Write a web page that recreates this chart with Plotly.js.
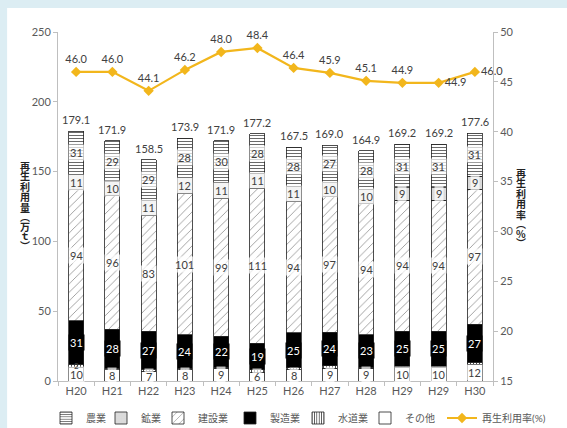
<!DOCTYPE html>
<html><head><meta charset="utf-8">
<script src="https://cdn.plot.ly/plotly-3.0.1.min.js"></script>
<style>html,body{margin:0;padding:0;background:#dcedf3;}#c{width:567px;height:428px;}</style>
</head><body><div id="c"></div>
<script>
const years = ['H20','H21','H22','H23','H24','H25','H26','H27','H28','H29','H29','H30'];
const totals = [179.1,171.9,158.5,173.9,171.9,177.2,167.5,169.0,164.9,169.2,169.2,177.6];
const other = [10,8,7,8,9,6,8,9,9,10,10,12];
const water = [2,1,1.5,1,1,2,1.5,2,1,0.5,0.5,1.5];
const waterLabels = ['2','','','','','','','','','','',''];
const manuf = [31,28,27,24,22,19,25,24,23,25,25,27];
const constr = [94,96,83,101,99,111,94,97,94,94,94,97];
const mining = [11,10,11,12,11,11,11,10,10,9,9,9];
const agri = [31,29,29,28,30,28,28,27,28,31,31,31];
const rate = [46.0,46.0,44.1,46.2,48.0,48.4,46.4,45.9,45.1,44.9,44.9,46.0];
const ratePos = ['top center','top center','top center','top center','top center','top center','top center','top center','top center','top center','middle right','middle right'];
const leftTitle = ['再','生','利','用','量','︵','万','ｔ','︶'];
const rightTitle = ['再','生','利','用','率','︵','%','︶'];

const xs = years.map((_, i) => i);
const FONT = "Lato, 'Noto Sans CJK JP', sans-serif";
const JP = "'Noto Sans CJK JP', sans-serif";
const outline = {color:'#222', width:0.8};
const pxY = p => (381 - p) / 349;
const pxX = p => (p - 58) / 435;

const series = [
  {name:'その他', y:other, pattern:{shape:''}, color:'#fff', lg:'legend6', lx:365},
  {name:'水道業', y:water, pattern:{shape:'|', fgcolor:'#333', bgcolor:'#fff', size:3, solidity:0.3}, color:'#fff', lg:'legend5', lx:298},
  {name:'製造業', y:manuf, pattern:{shape:''}, color:'#000', lg:'legend4', lx:230},
  {name:'建設業', y:constr, pattern:{shape:'/', fgcolor:'#9a9a9a', bgcolor:'#fff', size:6, solidity:0.15}, color:'#fff', lg:'legend3', lx:158},
  {name:'鉱業', y:mining, pattern:{shape:'.', fgcolor:'#a0a0a0', bgcolor:'#fff', size:2, solidity:0.4}, color:'#fff', lg:'legend2', lx:101},
  {name:'農業', y:agri, pattern:{shape:'-', fgcolor:'#6a6a6a', bgcolor:'#fff', size:3, solidity:0.35}, color:'#fff', lg:'legend', lx:46}
];

const traces = series.map(s => ({
  type:'bar', x:xs, y:s.y, name:s.name, legend:s.lg, width:0.42,
  marker:{color:s.color, pattern:s.pattern, line:outline},
  hoverinfo:'y'
}));

traces.push({
  type:'scatter', mode:'lines+markers+text', x:xs, y:rate, yaxis:'y2', name:'再生利用率(%)', legend:'legend7',
  line:{color:'#F2B61C', width:2.2}, marker:{symbol:'diamond', size:8, color:'#F2B61C'},
  text:rate.map(v=>v.toFixed(1)), textposition:ratePos,
  textfont:{family:FONT, size:11, color:'#404040'}, cliponaxis:false
});

const annotations = [];
const base = xs.map(()=>0);
series.forEach((s) => {
  s.y.forEach((v, i) => {
    let label = String(v);
    const isWater = s.name === '水道業';
    if (isWater) label = waterLabels[i];
    if (label) {
      const isBlack = s.name === '製造業';
      annotations.push({x:i, y:base[i] + v/2, xref:'x', yref:'y', text:label, showarrow:false,
        font:{family:FONT, size:isWater ? 8 : 11, color:isBlack ? '#fff' : '#404040'},
        bgcolor:isBlack ? '#000' : (isWater ? 'rgba(0,0,0,0)' : 'rgba(255,255,255,0.7)'), borderpad:isWater ? 0 : 1});
    }
    base[i] += v;
  });
});
totals.forEach((t, i) => {
  annotations.push({x:i, y:base[i], xref:'x', yref:'y', text:t.toFixed(1), showarrow:false, yanchor:'bottom', yshift:3,
    font:{family:FONT, size:11, color:'#404040'}});
});
// vertical axis titles, one character per annotation (pixel rows of the character centres)
const leftRows = [165, 175.5, 186, 196.5, 207, 216.5, 226, 235.5, 245];
const rightRows = [172, 182.5, 193, 203.5, 214, 223.5, 233, 242.5];
leftTitle.forEach((ch, k) => {
  annotations.push({xref:'paper', yref:'paper', x:pxX(18), y:pxY(leftRows[k]), yanchor:'middle', text:ch, showarrow:false,
    font:{family:JP, size:10, color:'#222', weight:700}});
});
rightTitle.forEach((ch, k) => {
  annotations.push({xref:'paper', yref:'paper', x:pxX(528), y:pxY(rightRows[k]), yanchor:'middle', text:ch, showarrow:false,
    font:{family:JP, size:10, color:'#222', weight:700}});
});

const legendBase = {orientation:'h', xanchor:'left', y:pxY(418), yanchor:'middle',
  font:{family:FONT, size:10, color:'#595959'}, bgcolor:'rgba(0,0,0,0)', itemwidth:30};

const layout = {
  width:567, height:428,
  margin:{l:58, r:74, t:32, b:47, autoexpand:false},
  paper_bgcolor:'#dcedf3', plot_bgcolor:'#fff',
  barmode:'stack', showlegend:true,
  font:{family:FONT, size:11, color:'#595959'},
  xaxis:{range:[-0.5, 11.5], tickmode:'array', tickvals:xs, ticktext:years, ticks:'', showgrid:false, zeroline:false,
    showline:true, linecolor:'#bfbfbf', tickfont:{size:11, color:'#595959'},
    minor:{tickmode:'array', tickvals:xs.map(i=>i-0.5).concat([11.5]), ticks:'outside', ticklen:4, tickcolor:'#bfbfbf', showgrid:false}},
  yaxis:{range:[0,250], tickvals:[0,50,100,150,200,250], showgrid:false, zeroline:false, showline:true, linecolor:'#bfbfbf',
    ticks:'outside', ticklen:4, tickcolor:'#bfbfbf', tickfont:{size:11, color:'#595959'}},
  yaxis2:{range:[15,50], tickvals:[15,20,25,30,35,40,45,50], overlaying:'y', side:'right', showgrid:false, zeroline:false,
    showline:true, linecolor:'#bfbfbf', ticks:'outside', ticklen:4, tickcolor:'#bfbfbf', tickfont:{size:11, color:'#595959'}},
  shapes:[{type:'rect', xref:'paper', yref:'paper', x0:-0.117, x1:1.2, y0:-0.2, y1:1.069, fillcolor:'#fff', line:{width:0}, layer:'below'}],
  annotations:annotations
};
series.forEach(s => { layout[s.lg] = Object.assign({}, legendBase, {x:pxX(s.lx)}); });
layout.legend7 = Object.assign({}, legendBase, {x:pxX(442)});

Plotly.newPlot('c', traces, layout, {displayModeBar:false, staticPlot:true});
</script></body></html>
